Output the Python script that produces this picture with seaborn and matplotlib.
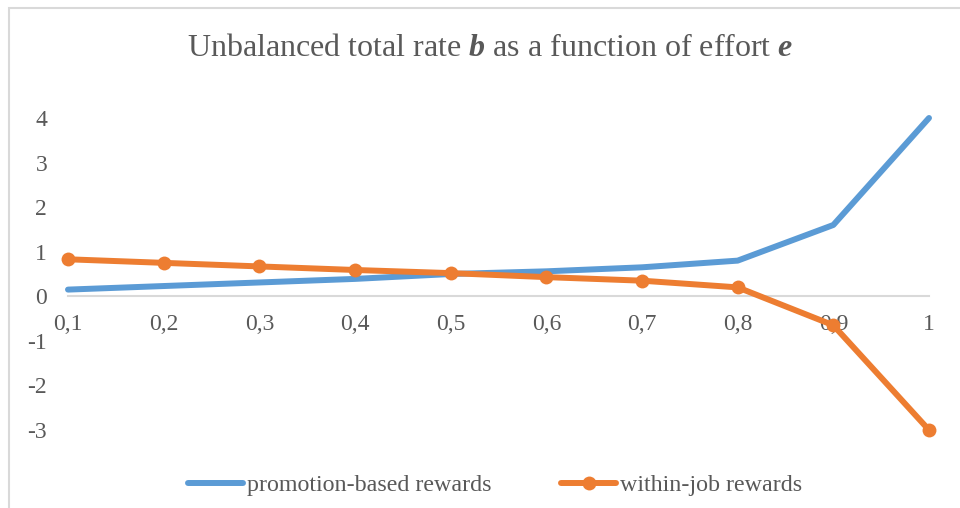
import numpy as np
import pandas as pd
import matplotlib
matplotlib.use("Agg")
import matplotlib.pyplot as plt
import seaborn as sns
from matplotlib.lines import Line2D
from matplotlib.patches import Rectangle

effort = [0.1, 0.2, 0.3, 0.4, 0.5, 0.6, 0.7, 0.8, 0.9, 1.0]
effort_labels = ["0,1", "0,2", "0,3", "0,4", "0,5", "0,6", "0,7", "0,8", "0,9", "1"]
promotion = [0.15, 0.23, 0.31, 0.39, 0.50, 0.56, 0.65, 0.80, 1.60, 4.00]
within_job = [0.83, 0.75, 0.67, 0.59, 0.52, 0.43, 0.35, 0.20, -0.65, -3.00]
y_ticks = [4, 3, 2, 1, 0, -1, -2, -3]
series_names = ["promotion-based rewards", "within-job rewards"]
title_text = r"Unbalanced total rate $\mathbfit{b}$ as a function of effort $\mathbfit{e}$"

sns.set_theme(style="white")
plt.rcParams["font.family"] = ["Liberation Serif", "DejaVu Serif"]
plt.rcParams["mathtext.fontset"] = "custom"
plt.rcParams["mathtext.rm"] = "Liberation Serif"
plt.rcParams["mathtext.it"] = "Liberation Serif:italic"
plt.rcParams["mathtext.bf"] = "Liberation Serif:bold"
plt.rcParams["mathtext.bfit"] = "Liberation Serif:bold:italic"

BLUE = "#5B9BD5"
ORANGE = "#ED7D31"
GRAY = "#595959"

df = pd.DataFrame({
    "effort": effort * 2,
    "b": promotion + within_job,
    "series": [series_names[0]] * len(effort) + [series_names[1]] * len(effort),
})

fig = plt.figure(figsize=(9.6, 5.08), dpi=100)
ax = fig.add_axes([68 / 960, 78 / 508, 861 / 960, 312 / 508])

sns.lineplot(data=df[df.series == series_names[0]], x="effort", y="b", ax=ax,
             color=BLUE, linewidth=4.3, legend=False, clip_on=False)
sns.lineplot(data=df[df.series == series_names[1]], x="effort", y="b", ax=ax,
             color=ORANGE, linewidth=4.3, marker="o", markersize=10,
             markeredgewidth=0, legend=False, clip_on=False)

ax.set_xlim(0.1, 1.0)
ax.set_ylim(-3, 4)
ax.set_xticks(effort)
ax.set_xticklabels(effort_labels)
ax.set_yticks(y_ticks)
ax.set_yticklabels([str(t) for t in y_ticks])
ax.set_xlabel("")
ax.set_ylabel("")
for s in ["top", "right", "left"]:
    ax.spines[s].set_visible(False)
ax.spines["bottom"].set_position(("data", 0))
ax.spines["bottom"].set_color("#D9D9D9")
ax.spines["bottom"].set_linewidth(1.5)
ax.spines["bottom"].set_zorder(0)
ax.tick_params(axis="x", length=0, pad=13, labelsize=17, labelcolor=GRAY)
ax.tick_params(axis="y", length=0, pad=15, labelsize=17, labelcolor=GRAY)
ax.patch.set_alpha(0)

fig.text(490 / 960, 1 - 49 / 508, title_text, ha="center", va="center",
         fontsize=23, color=GRAY)

handles = [
    Line2D([], [], color=BLUE, linewidth=4.3, solid_capstyle="round"),
    Line2D([], [], color=ORANGE, linewidth=4.3, marker="o", markersize=10,
           markeredgewidth=0, solid_capstyle="round"),
]
fig.legend(handles, series_names, loc="center", bbox_to_anchor=(495 / 960, 1 - 485 / 508),
           ncol=2, frameon=False, fontsize=17.3, handlelength=2.3, handletextpad=0.15,
           columnspacing=2.9, labelcolor=GRAY)

fig.patches.append(Rectangle((9 / 960, -0.05), 1.0, 1 - 8 / 508 + 0.05,
                             transform=fig.transFigure, fill=False,
                             edgecolor="#D9D9D9", linewidth=1.5))

fig.savefig("out.png", dpi=100)
